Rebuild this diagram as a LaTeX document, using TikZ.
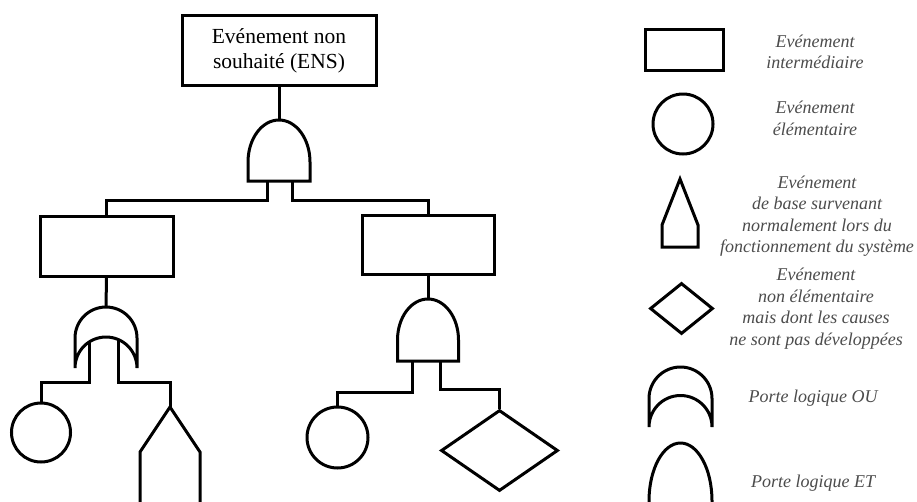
\documentclass[tikz,border=0pt]{standalone}
\usepackage{fontspec}
\setmainfont{Liberation Serif}
\usetikzlibrary{shapes.geometric}
\tikzset{
  ln/.style={line width=3pt, line join=miter, line cap=butt},
  evbox/.style={draw, ln, rectangle, inner sep=0pt},
  evcirc/.style={draw, ln, circle, inner sep=0pt},
  evdiam/.style={draw, ln, diamond, inner sep=0pt},
  gatepath/.style={draw, ln},
  conn/.style={draw, ln},
  maintxt/.style={align=center, font=\fontsize{21.5}{25}\selectfont, inner sep=0pt},
  legtxt/.style={align=center, text=black!70, font=\fontsize{18}{21.5}\selectfont\itshape, inner sep=0pt},
}
\begin{document}
\begin{tikzpicture}[x=1pt,y=1pt]
\useasboundingbox (0,0) rectangle (917,-501);
\clip (0,0) rectangle (917,-501);
\fill[white] (0,0) rectangle (917,-501);

% ---------- tree ----------
\node[evbox, minimum width=194pt, minimum height=70pt] (ens) at (279,-50) {};
\node[maintxt] (enstxt) at (279,-51) {Evénement non\\souhaité (ENS)};

% top AND gate
\coordinate (g1top) at (279,-120);
\coordinate (g1l) at (267,-181);
\coordinate (g1r) at (292,-181);
\path[gatepath] (248,-181) -- (248,-162) arc[start angle=180,end angle=0,x radius=31pt,y radius=42pt] -- (310,-181) -- cycle;

\node[evbox, minimum width=133pt, minimum height=60pt] (boxL) at (106.5,-246) {};
\node[evbox, minimum width=132pt, minimum height=59pt] (boxR) at (428,-244.5) {};

\draw[conn] (ens.south) -- (g1top);
\draw[conn] (g1l) -- (267,-200) -| (boxL.north);
\draw[conn] (g1r) -- (292,-200) -| (boxR.north);

% left OR gate
\coordinate (o1top) at (106,-307);
\path[gatepath] (75,-368) -- (75,-338) arc[start angle=180,end angle=0,radius=31pt] -- (137,-368)
   arc[start angle=0,end angle=180,radius=31pt];
\coordinate (o1l) at (89,-342);
\coordinate (o1r) at (118,-339.5);
\draw[conn] (boxL.south) -- (o1top);

\node[evcirc, minimum size=59pt] (c1) at (41,-432.5) {};
\coordinate (h1apex) at (170,-407);
\path[gatepath] (140,-515) -- (140,-452) -- (h1apex) -- (200,-452) -- (200,-515);

\draw[conn] (o1l) -- (89,-382) -| (c1.north);
\draw[conn] (o1r) -- (118,-382) -| (h1apex);

% right AND gate
\coordinate (g2top) at (428,-299);
\path[gatepath] (397.5,-361) -- (397.5,-340) arc[start angle=180,end angle=0,x radius=30.5pt,y radius=41pt] -- (458.5,-361) -- cycle;
\coordinate (g2l) at (412,-361);
\coordinate (g2r) at (440,-361);
\draw[conn] (boxR.south) -- (g2top);

\node[evcirc, minimum size=61pt] (c2) at (337.5,-437.5) {};
\node[evdiam, minimum width=117pt, minimum height=81pt] (d1) at (499.5,-450.5) {};

\draw[conn] (g2l) -- (412,-392) -| (c2.north);
\draw[conn] (g2r) -- (440,-389) -| (d1.north);

% ---------- legend ----------
\node[evbox, minimum width=78pt, minimum height=41pt] (lrect) at (684,-49.5) {};
\node[legtxt] (lrecttxt) at (815,-52) {Evénement\\intermédiaire};

\node[evcirc, minimum size=60pt] (lcirc) at (683,-124) {};
\node[legtxt] (lcirctxt) at (815,-118.5) {Evénement\\élémentaire};

\path[gatepath] (680,-179) -- (698,-225) -- (698,-247) -- (662,-247) -- (662,-225) -- cycle;
\node[legtxt] (lhousetxt) at (817,-216) {Evénement\\de base survenant\\normalement lors du\\fonctionnement du système};

\node[evdiam, minimum width=63pt, minimum height=51pt] (ldiam) at (681.5,-308.5) {};
\node[legtxt] (ldiamtxt) at (816,-308.5) {Evénement\\non élémentaire\\mais dont les causes\\ne sont pas développées};

\path[gatepath] (649,-427) -- (649,-398.5) arc[start angle=180,end angle=0,radius=31.5pt] -- (712,-427)
   arc[start angle=0,end angle=180,radius=31.5pt];
\node[legtxt] (lortxt) at (813,-398) {Porte logique OU};

\path[gatepath] (649,-515) -- (649,-501) arc[start angle=180,end angle=0,x radius=31.5pt,y radius=58pt] -- (712,-515);
\node[legtxt] (landtxt) at (813,-483) {Porte logique ET};
\end{tikzpicture}
\end{document}
